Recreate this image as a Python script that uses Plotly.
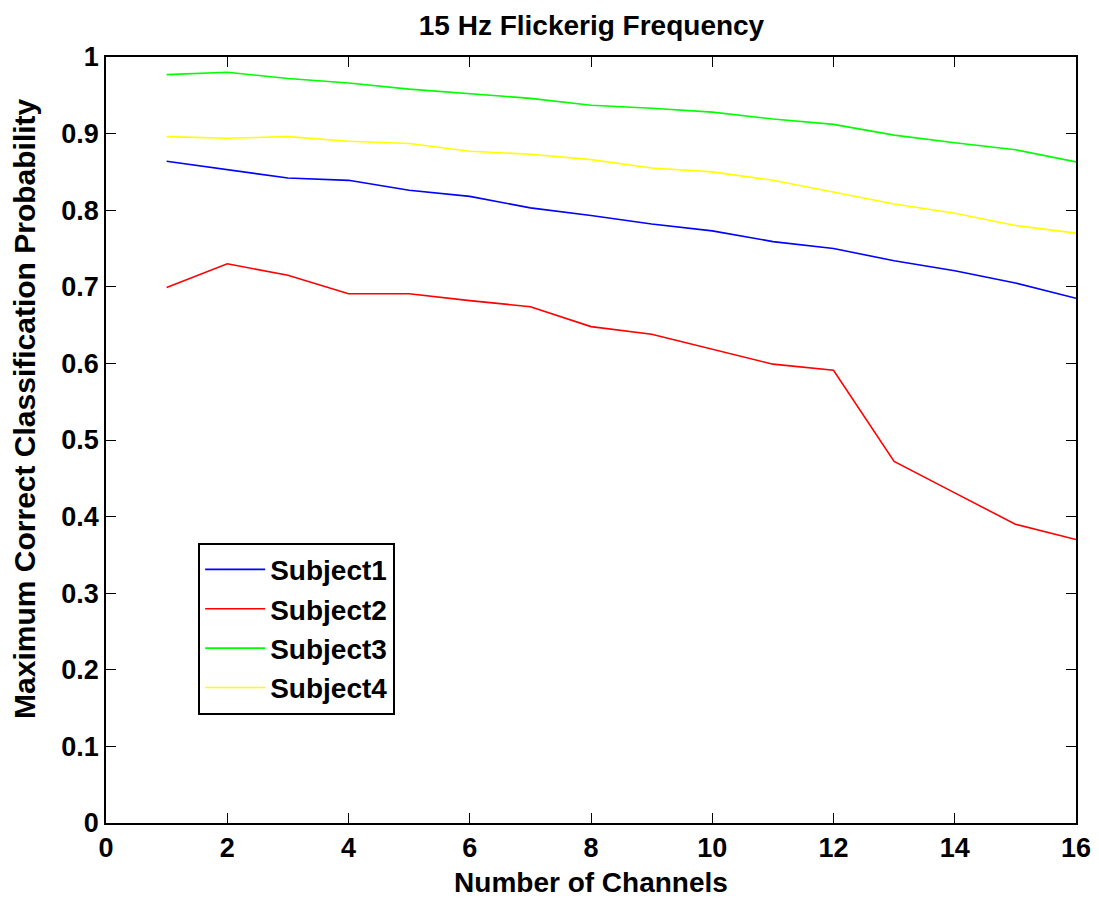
import plotly.graph_objects as go

channels = list(range(1, 17))
subject1 = [0.864, 0.853, 0.842, 0.839, 0.826, 0.818, 0.803, 0.793, 0.782, 0.773, 0.759, 0.750, 0.734, 0.721, 0.705, 0.685]
subject2 = [0.699, 0.730, 0.715, 0.691, 0.691, 0.682, 0.674, 0.648, 0.638, 0.618, 0.599, 0.591, 0.472, 0.431, 0.390, 0.370]
subject3 = [0.977, 0.980, 0.972, 0.966, 0.958, 0.952, 0.946, 0.937, 0.933, 0.928, 0.919, 0.912, 0.898, 0.888, 0.879, 0.863]
subject4 = [0.896, 0.894, 0.896, 0.890, 0.887, 0.877, 0.873, 0.866, 0.855, 0.850, 0.839, 0.823, 0.808, 0.796, 0.780, 0.770]

names = ["Subject1", "Subject2", "Subject3", "Subject4"]
colors = ["#0000ff", "#ff0000", "#00ff00", "#ffff00"]
series = [subject1, subject2, subject3, subject4]

xticks = [0, 2, 4, 6, 8, 10, 12, 14, 16]
yticks = [0, 0.1, 0.2, 0.3, 0.4, 0.5, 0.6, 0.7, 0.8, 0.9, 1]

fig = go.Figure()
for n, c, s in zip(names, colors, series):
    fig.add_trace(go.Scatter(x=channels, y=s, mode="lines", name=n,
                             line=dict(color=c, width=1.6)))

font_main = "Liberation Sans, Arial, sans-serif"
FS = 28
axis_common = dict(showgrid=False, zeroline=False, showline=True, linecolor="black",
                   linewidth=1.5, mirror="ticks", ticks="inside", ticklen=10,
                   tickwidth=1, tickcolor="black", automargin=False,
                   tickfont=dict(family=font_main, size=27, color="black", weight="bold"))

fig.update_layout(
    width=1099, height=903,
    margin=dict(l=106, r=23, t=57, b=80),
    paper_bgcolor="white", plot_bgcolor="white",
    title=dict(text="15 Hz Flickerig Frequency", x=0.5382, xanchor="center",
               y=0.972, yanchor="middle",
               font=dict(family=font_main, size=FS, color="black", weight="bold")),
    xaxis=dict(range=[0, 16], tickvals=xticks, ticktext=[str(v) for v in xticks],
               title=dict(text="Number of Channels", standoff=10,
                          font=dict(family=font_main, size=FS, color="black", weight="bold")),
               **axis_common),
    yaxis=dict(range=[0, 1], tickvals=yticks, ticktext=[("%g" % v) for v in yticks],
               **axis_common),
    legend=dict(x=0.095, y=0.366, xanchor="left", yanchor="top",
                bgcolor="white", bordercolor="black", borderwidth=2,
                font=dict(family=font_main, size=FS, color="black", weight="bold"),
                itemwidth=60, tracegroupgap=4),
    showlegend=True,
)

fig.add_annotation(text="Maximum Correct Classification Probability",
                   xref="paper", yref="paper", x=-0.084, y=0.54,
                   xanchor="center", yanchor="middle", textangle=-90, showarrow=False,
                   font=dict(family=font_main, size=30, color="black", weight="bold"))

fig.write_html("out.html")
